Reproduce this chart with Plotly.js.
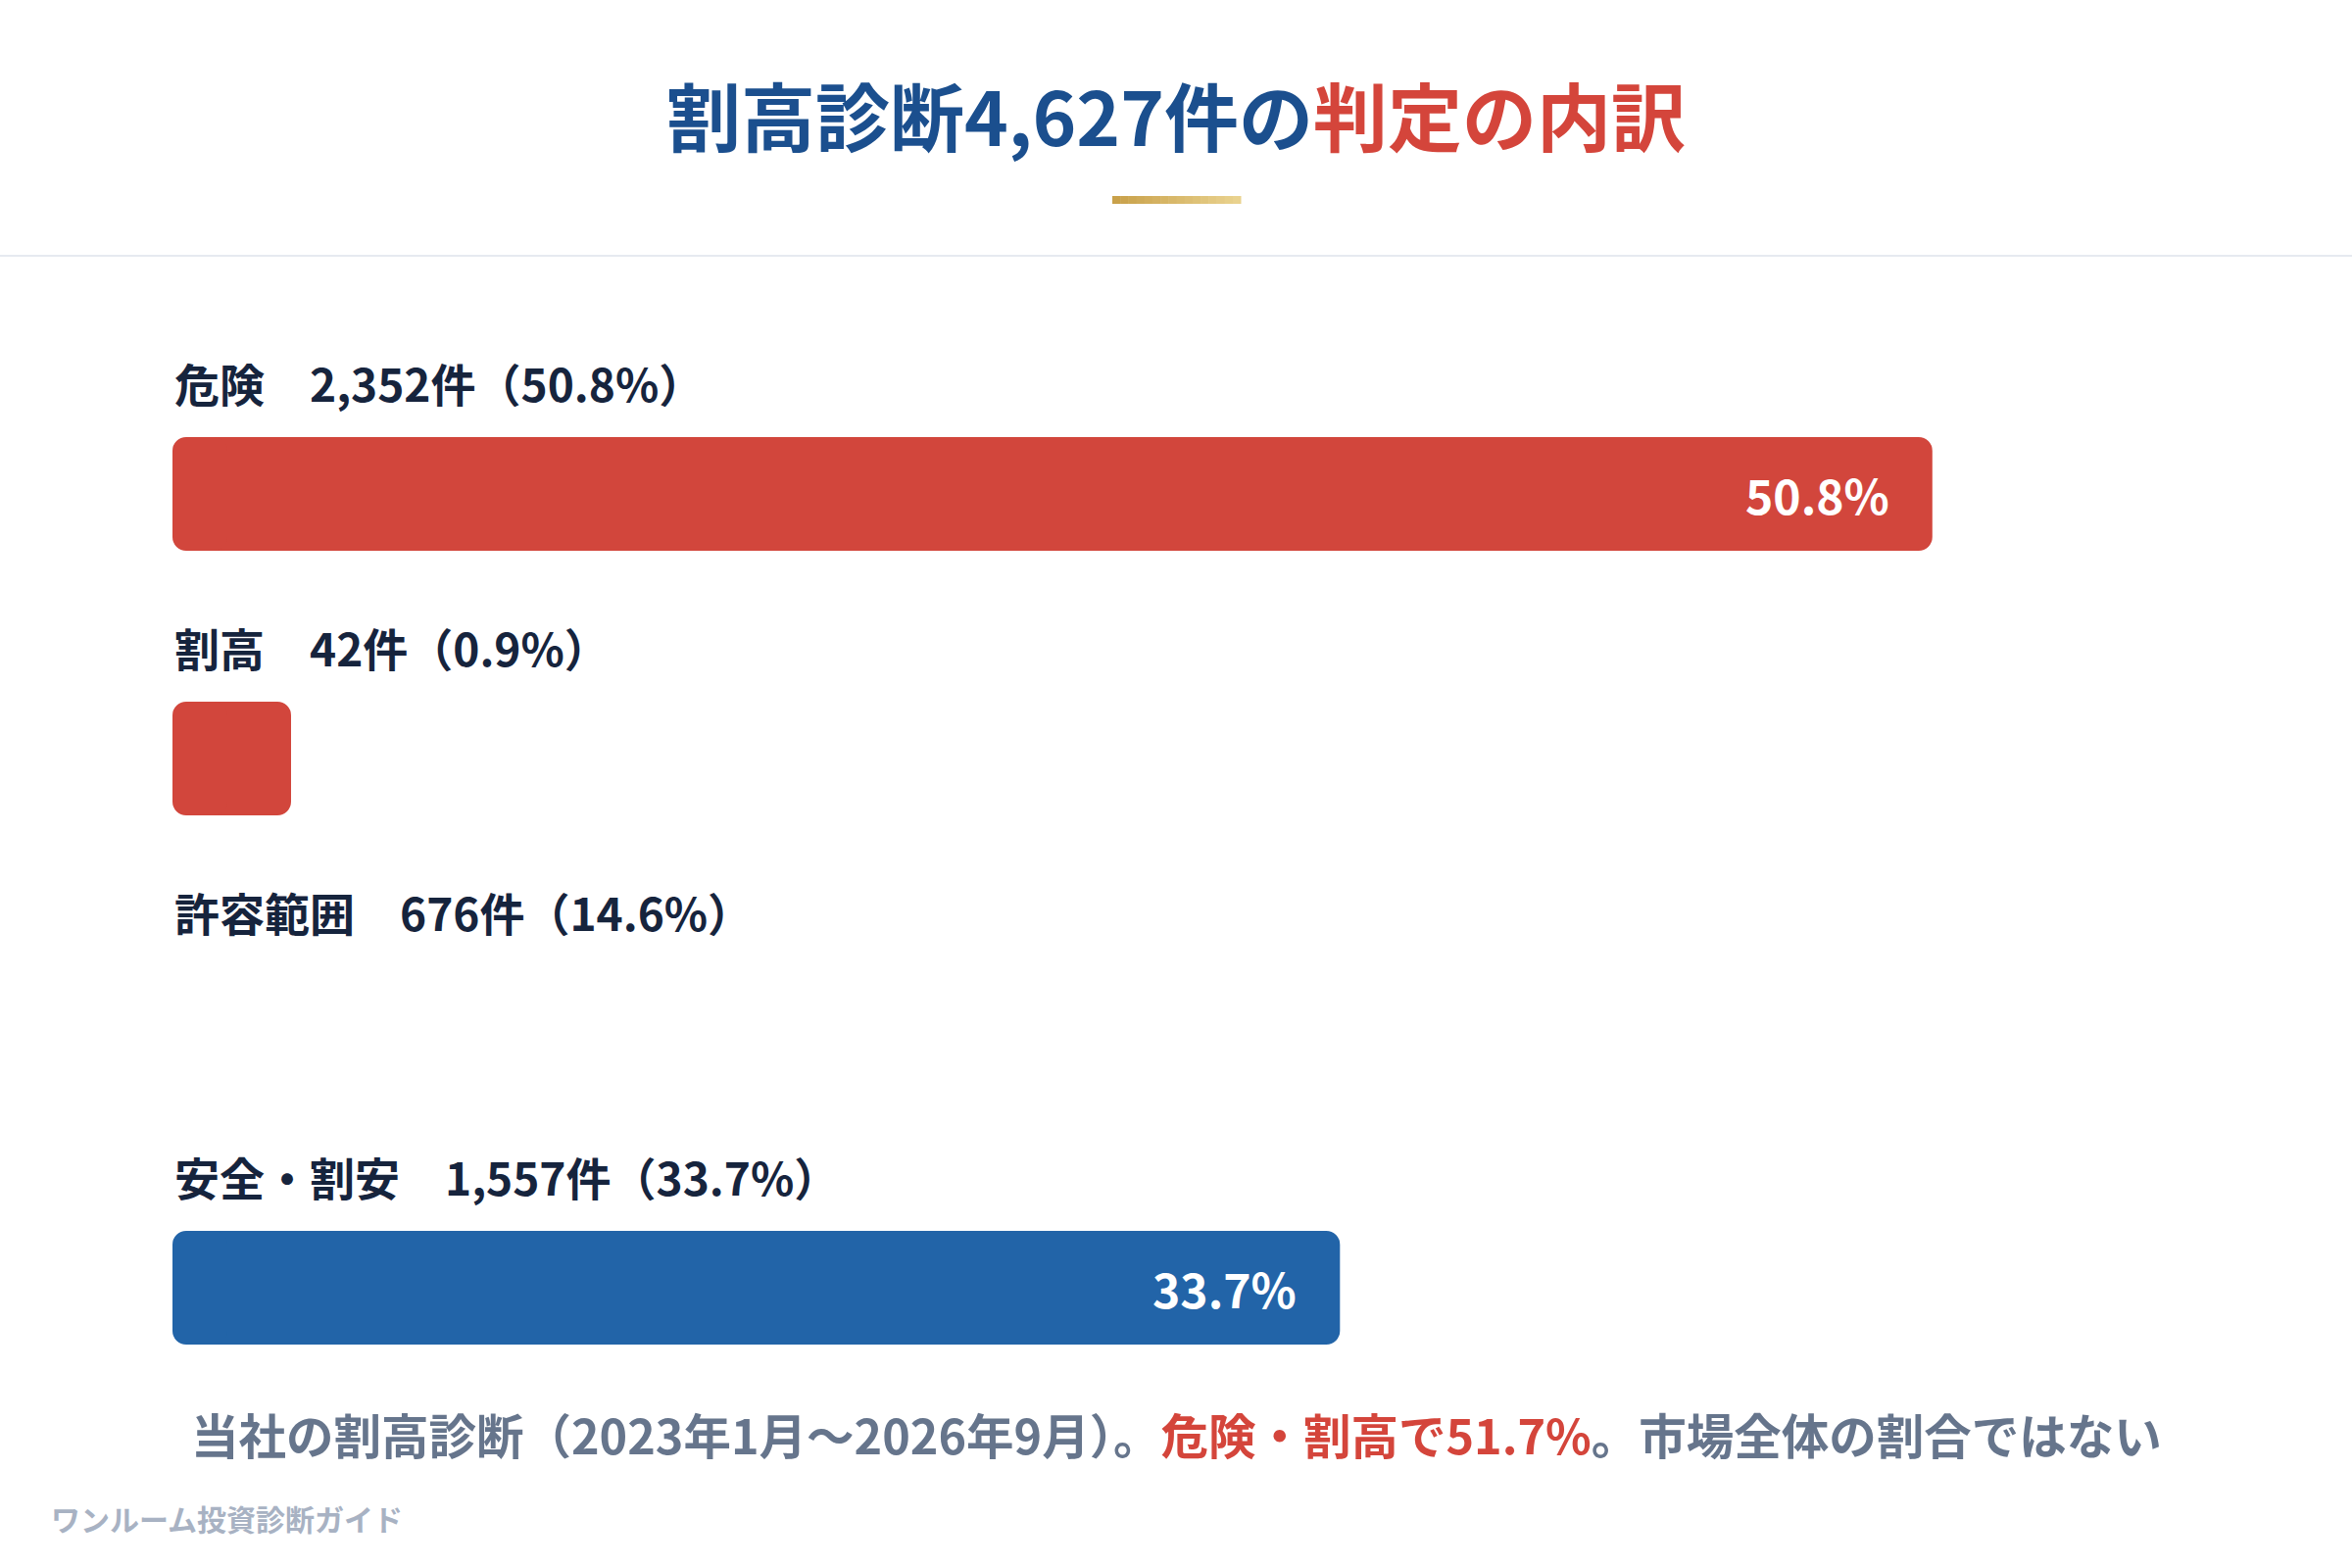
<!DOCTYPE html>
<html>
<head>
<meta charset="utf-8">
<script src="https://cdn.plot.ly/plotly-3.0.1.min.js"></script>
<style>
  html, body { margin: 0; padding: 0; background: #ffffff; }
  #plot { width: 2400px; height: 1600px; }
</style>
</head>
<body>
<div id="plot"></div>
<script>
// verdict breakdown of the 4,627 diagnoses
const categories = ['危険', '割高', '許容範囲', '安全・割安'];
const counts = [2352, 42, 676, 1557];
const shares = [50.8, 0.9, 14.6, 33.7];
const barColors = ['#d2463c', '#d2463c', 'rgba(0,0,0,0)', '#2264a8'];
const totalCount = 4627;

const FONT = '"Noto Sans CJK JP", "Noto Sans", sans-serif';
const W = 2400, H = 1600;
const M = { l: 176, r: 176, t: 369, b: 151 };
const PX_PER_PCT = 35.35;
const MIN_BAR_PX = 121;   // tiny shares still get a visible block
const RADIUS = 14;

const plotW = W - M.l - M.r;
const plotH = H - M.t - M.b;
const xMax = plotW / PX_PER_PCT;
const rData = RADIUS / PX_PER_PCT;

function paperX(px) { return (px - M.l) / plotW; }
function paperY(py) { return (H - M.b - py) / plotH; }

const shown = shares.map(s => Math.max(s, MIN_BAR_PX / PX_PER_PCT));

// plotly only rounds the tip of a bar, so each bar is a body (tip on the right)
// plus a short cap drawn backwards from 4r to 0 (tip on the left)
const bodyTrace = {
  type: 'bar',
  orientation: 'h',
  y: categories,
  x: shown.map(v => v - 2 * rData),
  base: shown.map(() => 2 * rData),
  width: 0.43,
  marker: { color: barColors, line: { width: 0 }, cornerradius: RADIUS },
  hoverinfo: 'skip',
  showlegend: false,
};

const capTrace = {
  type: 'bar',
  orientation: 'h',
  y: categories,
  x: shown.map(() => -4 * rData),
  base: shown.map(() => 4 * rData),
  width: 0.43,
  marker: { color: barColors, line: { width: 0 }, cornerradius: RADIUS },
  hoverinfo: 'skip',
  showlegend: false,
};

const annotations = [];

// label above each bar
categories.forEach((c, i) => {
  annotations.push({
    x: 0, xref: 'x', y: c, yref: 'y',
    xanchor: 'left', yanchor: 'middle', yshift: 114,
    showarrow: false,
    text: '<b>' + c + '\u3000' + counts[i].toLocaleString('en-US') + '件（' + shares[i].toFixed(1) + '%）</b>',
    font: { family: FONT, size: 46, color: '#16243d' },
  });
});

// value inside the bar, only when there is room
categories.forEach((c, i) => {
  if (barColors[i].indexOf('rgba(0,0,0,0)') === 0 || shares[i] < 5) return;
  annotations.push({
    x: shown[i], xref: 'x', y: c, yref: 'y',
    xanchor: 'right', yanchor: 'middle', xshift: -42, yshift: 0,
    showarrow: false,
    text: '<b>' + shares[i].toFixed(1) + '%</b>',
    font: { family: FONT, size: 48, color: '#ffffff' },
  });
});

const riskShare = (shares[0] + shares[1]).toFixed(1);
annotations.push({
  x: 0.5, xref: 'paper', y: paperY(1463), yref: 'paper',
  xanchor: 'center', yanchor: 'middle', showarrow: false,
  text: '<b><span style="color:#66758c">当社の割高診断（2023年1月～2026年9月）。</span>' +
        '<span style="color:#d4453b">危険・割高で' + riskShare + '%</span>' +
        '<span style="color:#66758c">。市場全体の割合ではない</span></b>',
  font: { family: FONT, size: 48.5, color: '#66758c' },
});

annotations.push({
  x: paperX(50), xref: 'paper', y: paperY(1549), yref: 'paper',
  xanchor: 'left', yanchor: 'middle', showarrow: false,
  text: '<b>ワンルーム投資診断ガイド</b>',
  font: { family: FONT, size: 30, color: '#a8b2c3' },
});

const shapes = [];
// thin rule under the header
shapes.push({
  type: 'line', xref: 'paper', yref: 'paper',
  x0: paperX(0), x1: paperX(W), y0: paperY(261), y1: paperY(261),
  line: { color: '#e6eaf0', width: 2 },
});
// gold accent under the title, faked gradient with slices
const gold0 = [201, 161, 74], gold1 = [233, 210, 142];
const nSlices = 16, gx0 = 1135, gx1 = 1266;
for (let k = 0; k < nSlices; k++) {
  const t = k / (nSlices - 1);
  const c = gold0.map((v, j) => Math.round(v + (gold1[j] - v) * t));
  shapes.push({
    type: 'rect', xref: 'paper', yref: 'paper', layer: 'above',
    x0: paperX(gx0 + (gx1 - gx0) * k / nSlices),
    x1: paperX(gx0 + (gx1 - gx0) * (k + 1) / nSlices + 0.5),
    y0: paperY(208), y1: paperY(200),
    fillcolor: 'rgb(' + c.join(',') + ')', line: { width: 0 },
  });
}

const layout = {
  width: W, height: H,
  margin: M,
  paper_bgcolor: '#ffffff',
  plot_bgcolor: '#ffffff',
  barmode: 'overlay',
  showlegend: false,
  hovermode: false,
  title: {
    text: '<b><span style="color:#1b4f8e">割高診断' + totalCount.toLocaleString('en-US') + '件の</span>' +
          '<span style="color:#d4453b">判定の内訳</span></b>',
    font: { family: FONT, size: 76 },
    x: 0.5, xanchor: 'center',
    yref: 'container', y: 1 - 122 / H, yanchor: 'middle',
  },
  xaxis: { visible: false, range: [0, xMax], fixedrange: true },
  yaxis: {
    visible: false, type: 'category',
    categoryorder: 'array', categoryarray: categories,
    range: [categories.length - 0.5, -0.5], fixedrange: true,
  },
  annotations: annotations,
  shapes: shapes,
};

Plotly.newPlot('plot', [bodyTrace, capTrace], layout, { displayModeBar: false, staticPlot: true });
</script>
</body>
</html>
